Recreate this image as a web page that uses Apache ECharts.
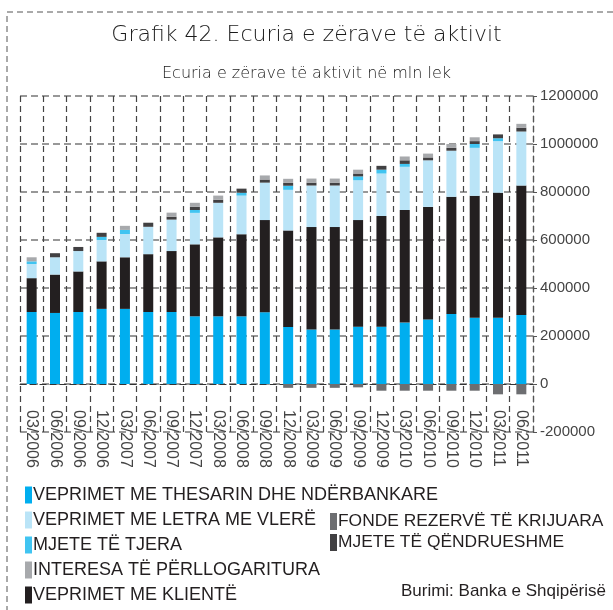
<!DOCTYPE html>
<html>
<head>
<meta charset="utf-8">
<script src="https://cdn.jsdelivr.net/npm/echarts@6/dist/echarts.min.js"></script>
<style>
  html, body { margin: 0; padding: 0; background: #fff; }
  #main { width: 613px; height: 610px; }
</style>
</head>
<body>
<div id="main"></div>
<script>
// periudhat (tremujore)
var periods = ['03/2006', '06/2006', '09/2006', '12/2006', '03/2007', '06/2007', '09/2007', '12/2007',
  '03/2008', '06/2008', '09/2008', '12/2008', '03/2009', '06/2009', '09/2009', '12/2009',
  '03/2010', '06/2010', '09/2010', '12/2010', '03/2011', '06/2011'];

// vlerat ne mln lek, lexuar nga grafiku
var thesarin = [300000, 296000, 300000, 313000, 313000, 300000, 300000, 282000, 282000, 282000, 299000, 238000,
  227000, 227000, 239000, 239000, 256000, 269000, 292000, 276000, 276000, 288000];
var kliente = [141000, 160000, 169000, 198000, 215000, 241000, 254000, 300000, 329000, 342000, 384000, 402000,
  427000, 427000, 444000, 461000, 469000, 469000, 488000, 508000, 521000, 539000];
var letra = [59000, 72000, 85000, 89000, 97000, 114000, 131000, 131000, 144000, 161000, 156000, 169000,
  173000, 173000, 166000, 177000, 180000, 194000, 192000, 200000, 215000, 225000];
var tjera = [11000, 0, 0, 13000, 17000, 0, 0, 12000, 0, 12000, 0, 17000,
  0, 0, 16000, 16000, 12000, 0, 0, 16000, 12000, 0];
var qendrueshme = [0, 17000, 17000, 17000, 0, 17000, 12000, 13000, 13000, 17000, 13000, 12000,
  12000, 12000, 12000, 16000, 15000, 12000, 12000, 12000, 16000, 16000];
var interesa = [17000, 0, 0, 0, 17000, 0, 17000, 17000, 17000, 0, 17000, 17000,
  17000, 17000, 16000, 0, 16000, 16000, 16000, 16000, 0, 16000];
var fonde = [0, 0, 0, 0, 0, 0, 0, 0, 0, 0, 0, -16000,
  -16000, -16000, -14000, -28000, -28000, -28000, -28000, -28000, -43000, -43000];

var yTicks = { min: -200000, max: 1200000, step: 200000 };

var FONT = 'DejaVu Sans';
var LEG_FONT = 'Liberation Sans';

var names = {
  thesarin: 'VEPRIMET ME THESARIN DHE NDËRBANKARE',
  letra: 'VEPRIMET ME LETRA ME VLERË',
  tjera: 'MJETE TË TJERA',
  interesa: 'INTERESA TË PËRLLOGARITURA',
  kliente: 'VEPRIMET ME KLIENTË',
  fonde: 'FONDE REZERVË TË KRIJUARA',
  qendrueshme: 'MJETE TË QËNDRUESHME'
};

function bar(name, data, color) {
  return {
    name: name,
    type: 'bar',
    stack: 'aktivi',
    barWidth: 10,
    data: data,
    itemStyle: { color: color },
    emphasis: { disabled: true }
  };
}

var legendBase = {
  orient: 'vertical',
  icon: 'rect',
  itemWidth: 7,
  itemHeight: 17,
  itemGap: 7,
  selectedMode: false,
  textStyle: { fontFamily: LEG_FONT, fontSize: 18, lineHeight: 17, color: '#231f20', padding: [0, 0, 0, -4] }
};

var myChart = echarts.init(document.getElementById('main'));
myChart.setOption({
  animation: false,
  backgroundColor: '#fff',
  title: [{
    text: 'Grafik 42. Ecuria e zërave të aktivit',
    left: 'center',
    top: 19,
    textStyle: { fontFamily: FONT, fontSize: 22, fontWeight: 200, color: '#1a1a1a' }
  }, {
    text: 'Ecuria e zërave të aktivit në mln lek',
    left: 'center',
    top: 61,
    textStyle: { fontFamily: FONT, fontSize: 16, fontWeight: 200, color: '#1a1a1a' }
  }],
  legend: [
    Object.assign({}, legendBase, {
      left: 20, top: 481, height: 125,
      data: [names.thesarin, names.letra, names.tjera, names.interesa, names.kliente]
    }),
    Object.assign({}, legendBase, {
      left: 325, top: 508, itemGap: 4,
      textStyle: Object.assign({}, legendBase.textStyle, { fontSize: 17.4 }),
      data: [names.fonde, names.qendrueshme]
    })
  ],
  grid: { left: 20, right: 80, top: 96, bottom: 178, containLabel: false },
  xAxis: {
    type: 'category',
    data: periods,
    axisLine: { onZero: true, lineStyle: { color: '#333', type: [6, 4], width: 1.2 } },
    axisTick: { show: false },
    splitLine: { show: true, interval: 0, lineStyle: { color: '#444', type: [6, 4], width: 1.2 } },
    axisLabel: { rotate: -90, interval: 0, fontFamily: LEG_FONT, fontSize: 16, color: '#444', margin: -22 }
  },
  yAxis: {
    type: 'value',
    position: 'right',
    min: yTicks.min,
    max: yTicks.max,
    interval: yTicks.step,
    axisLine: { show: true, lineStyle: { color: '#555', type: [6, 4], width: 1.2 } },
    axisTick: { show: true, length: 4, lineStyle: { color: '#555' } },
    splitLine: { show: true, lineStyle: { color: '#777', type: [7, 4], width: 1.5 } },
    axisLabel: {
      fontFamily: LEG_FONT, fontSize: 15, color: '#444', margin: 7,
      formatter: function (v) { return String(v); }
    }
  },
  graphic: [{
    type: 'rect',
    shape: { x: 7, y: 12, width: 640, height: 640 },
    style: { fill: 'none', stroke: '#555', lineWidth: 1, lineDash: [6, 4] },
    silent: true
  }, {
    type: 'text',
    right: 7,
    top: 583,
    style: { text: 'Burimi: Banka e Shqipërisë', font: '17px ' + LEG_FONT, fill: '#231f20' }
  }],
  series: [
    bar(names.thesarin, thesarin, '#00aeef'),
    bar(names.kliente, kliente, '#231f20'),
    bar(names.letra, letra, '#bae4f7'),
    bar(names.tjera, tjera, '#40c4f1'),
    bar(names.qendrueshme, qendrueshme, '#414042'),
    bar(names.interesa, interesa, '#a7a9ac'),
    bar(names.fonde, fonde, '#6d6e71')
  ]
});
</script>
</body>
</html>
